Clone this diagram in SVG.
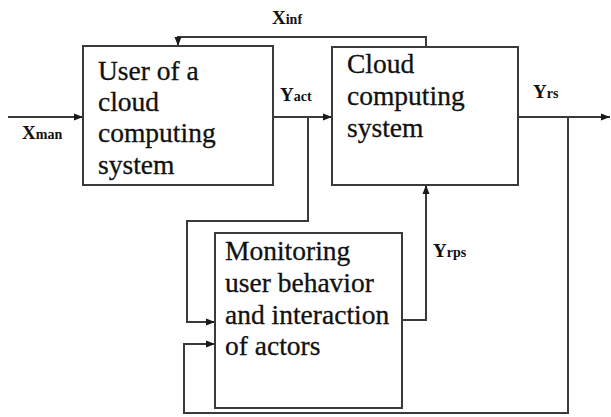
<svg xmlns="http://www.w3.org/2000/svg" width="611" height="417" viewBox="0 0 611 417">
  <defs>
    <marker id="arrow" markerUnits="userSpaceOnUse" markerWidth="10" markerHeight="8" refX="9" refY="4" orient="auto">
      <path d="M0,0.5 L9,4 L0,7.5 z" fill="#1a1a1a"/>
    </marker>
    <style>
      .box { fill: #ffffff; stroke: #3a3a3a; stroke-width: 2; }
      .body { font-size: 27.5px; fill: #111111; stroke: #111111; stroke-width: 0.3; }
      .lbl { font-weight: bold; font-size: 19px; fill: #111111; }
      .sub { font-size: 14px; }
      .wire { fill: none; stroke: #3a3a3a; stroke-width: 2; marker-end: url(#arrow); }
    </style>
  </defs>
  <rect width="611" height="417" fill="#ffffff"/>

  <g font-family="'Liberation Serif', 'DejaVu Serif', serif">
  <!-- connectors -->
  <g id="connectors">
    <path class="wire" d="M8,117 H83"/>
    <path class="wire" d="M273,117 H332"/>
    <path class="wire" d="M518,117 H610"/>
    <path class="wire" d="M426,47 V37 H178 V46"/>
    <path class="wire" d="M308,117 V221 H187 V322 H215"/>
    <path class="wire" d="M568,117 V413 H184 V344 H215"/>
    <path class="wire" d="M402,320 H426 V185"/>
    <text class="lbl" x="22" y="139">X<tspan class="sub">man</tspan></text>
    <text class="lbl" x="272" y="24">X<tspan class="sub">inf</tspan></text>
    <text class="lbl" x="280" y="101">Y<tspan class="sub">act</tspan></text>
    <text class="lbl" x="533" y="98">Y<tspan class="sub">rs</tspan></text>
    <text class="lbl" x="433" y="257">Y<tspan class="sub">rps</tspan></text>
  </g>

  <!-- user of the cloud system -->
  <g id="user">
    <rect class="box" x="83" y="46" width="190" height="139"/>
    <text class="body" x="98" y="80">User of a</text>
    <text class="body" x="98" y="111">cloud</text>
    <text class="body" x="98" y="142">computing</text>
    <text class="body" x="98" y="174">system</text>
  </g>

  <!-- cloud computing system -->
  <g id="cloud">
    <rect class="box" x="332" y="47" width="186" height="138"/>
    <text class="body" x="347" y="73">Cloud</text>
    <text class="body" x="347" y="105">computing</text>
    <text class="body" x="347" y="137">system</text>
  </g>

  <!-- monitoring block -->
  <g id="monitoring">
    <rect class="box" x="215" y="233" width="187" height="175"/>
    <text class="body" x="225" y="260">Monitoring</text>
    <text class="body" x="225" y="292">user behavior</text>
    <text class="body" x="225" y="324">and interaction</text>
    <text class="body" x="225" y="355">of actors</text>
  </g>
  </g>
</svg>
